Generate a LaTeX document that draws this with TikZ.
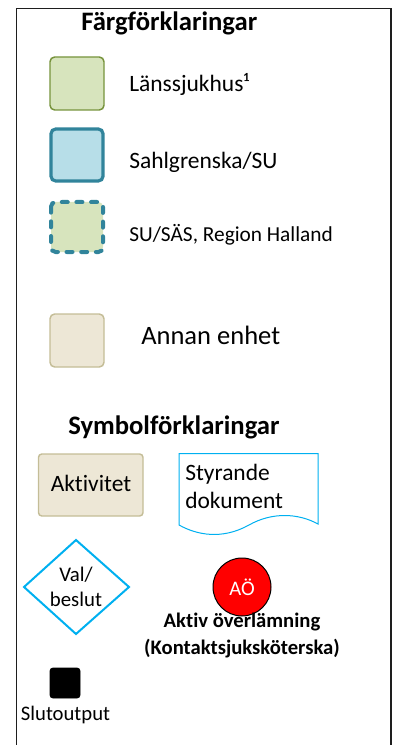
\documentclass[tikz,border=0pt]{standalone}
\usepackage{fontspec}
\setmainfont{Carlito}[Ligatures=NoCommon]
\usepackage{tikz}

\begin{document}
\begin{tikzpicture}[x=0.75pt,y=0.75pt,yscale=-1,xscale=1,
  lbl/.style={anchor=base west,inner sep=0pt,font=\fontsize{17.6}{21}\selectfont},
  hdr/.style={anchor=base west,inner sep=0pt,font=\fontsize{20}{24}\selectfont\bfseries},
  box/.style={rounded corners=3.5,line width=1.1}]
\useasboundingbox (0,0) rectangle (402,745);

%Shape: Frame
\draw [color={rgb, 255:red, 30; green, 30; blue, 30 }  ,line width=1.1]  (16.5,745) -- (16.5,8.5) -- (391,8.5) -- (391,745) ;

%Shape: Rectangle [Länssjukhus]
\draw  [box,draw={rgb, 255:red, 119; green, 147; blue, 60 },fill={rgb, 255:red, 215; green, 228; blue, 189 }]  (50,57) rectangle (104,110) ;
%Shape: Rectangle [Sahlgrenska]
\draw  [box,draw={rgb, 255:red, 49; green, 132; blue, 155 },fill={rgb, 255:red, 183; green, 222; blue, 232 },line width=2.4]  (51,129) rectangle (103,181) ;
%Shape: Rectangle [SU/SÄS]
\draw  [box,draw={rgb, 255:red, 49; green, 132; blue, 155 },fill={rgb, 255:red, 215; green, 228; blue, 189 },line width=3,line cap=round,dash pattern={on 4.5pt off 6.5pt}]  (51,202) rectangle (103,252) ;
%Shape: Rectangle [Annan enhet]
\draw  [box,draw={rgb, 255:red, 196; green, 189; blue, 151 },fill={rgb, 255:red, 237; green, 231; blue, 214 }]  (50,314) rectangle (104,367) ;

%Shape: Rectangle [Aktivitet]
\draw  [box,rounded corners=2.5,draw={rgb, 255:red, 196; green, 189; blue, 151 },fill={rgb, 255:red, 237; green, 231; blue, 214 }]  (38.5,454) rectangle (143,516) ;
%Shape: Document
\draw  [color={rgb, 255:red, 0; green, 176; blue, 240 }  ,line width=0.75]  (179,525) -- (179,453.5) -- (318,453.5) -- (318,524) .. controls (298,513) and (272,512) .. (249,525) .. controls (222,540) and (197,535) .. (179,525) -- cycle ;
%Shape: Diamond
\draw  [color={rgb, 255:red, 0; green, 176; blue, 240 }  ,line width=1.5]  (24,587) -- (76,540) -- (129,587) -- (76,634) -- cycle ;
%Shape: Rectangle [Slutoutput]
\draw  [rounded corners=2,fill=black]  (50,668) rectangle (80,698) ;

% Text Node
\draw (81,30.7) node (farg) [hdr] {Färgförklaringar};
% Text Node
\draw (129,91.7) node (lans) [lbl] {Länssjukhus¹};
% Text Node
\draw (129,169) node (sahl) [lbl] {Sahlgrenska/SU};
% Text Node
\draw (129,241.7) node (sus) [lbl,font=\fontsize{16}{19}\selectfont] {SU/SÄS, Region Halland};
% Text Node
\draw (141,344) node (annan) [lbl,font=\fontsize{19.9}{24}\selectfont] {Annan enhet};
% Text Node
\draw (68,434) node (symb) [hdr] {Symbolförklaringar};
% Text Node
\draw (91,491.7) node (akt) [lbl,anchor=base] {Aktivitet};
% Text Node
\draw (185,508) node (styr) [lbl,font=\fontsize{17.6}{20.6}\selectfont,align=left] {Styrande\\dokument};
% Text Node
\draw (76,606) node (val) [lbl,anchor=base,font=\fontsize{15.6}{18.5}\selectfont,align=center] {Val/\\beslut};
% Text Node
\draw (242,587) node (ao) [circle,draw=black,fill=red,line width=0.75,minimum size=43.5pt,inner sep=0pt,text=white,font=\fontsize{15.5}{18}\selectfont] {AÖ};
% Text Node
\draw (242,654) node (aktiv) [lbl,anchor=base,font=\fontsize{15.5}{20.2}\selectfont\bfseries,align=center] {Aktiv överlämning\\(Kontaktsjuksköterska)};
% Text Node
\draw (65.5,720) node (slut) [lbl,anchor=base,font=\fontsize{15.5}{18}\selectfont] {Slutoutput};

\end{tikzpicture}
\end{document}
